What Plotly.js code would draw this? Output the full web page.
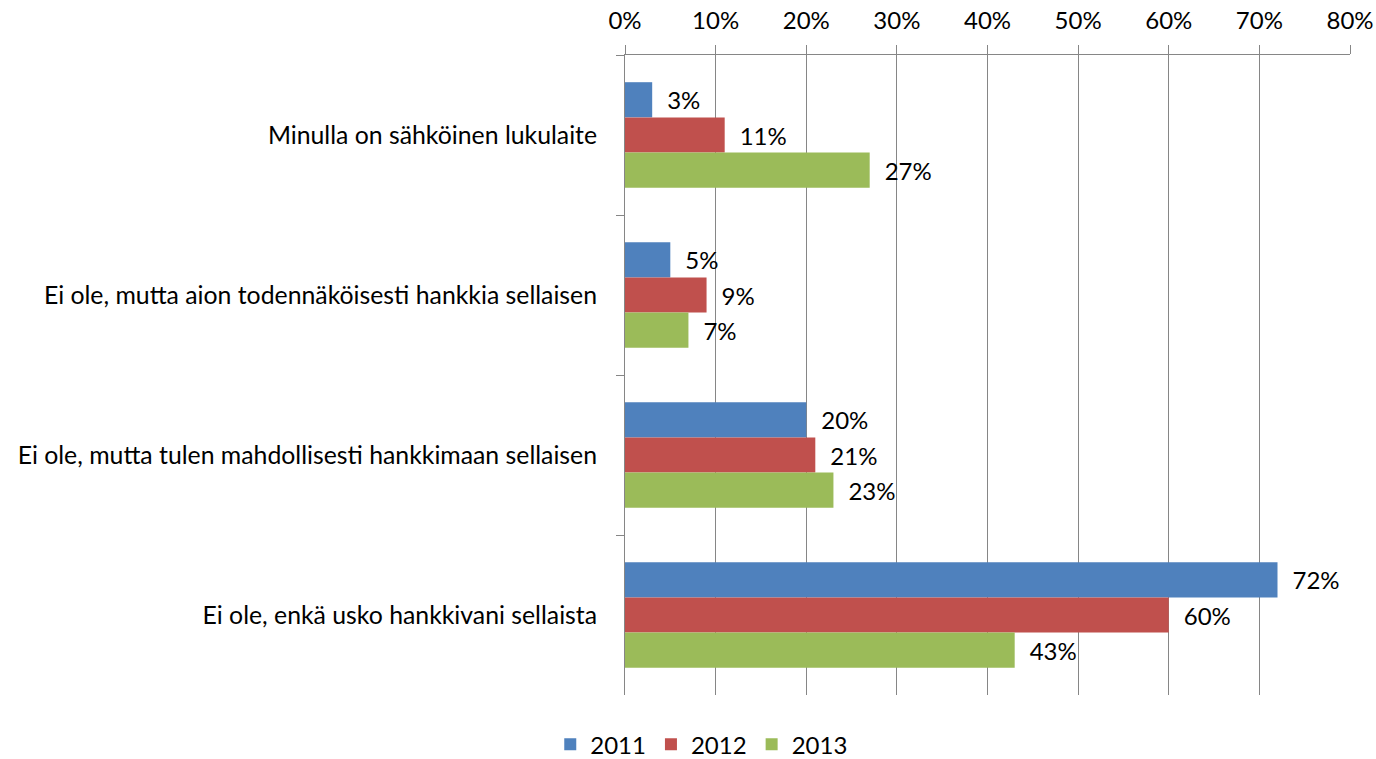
<!DOCTYPE html>
<html>
<head>
<meta charset="utf-8">
<script src="https://cdn.plot.ly/plotly-3.0.1.min.js"></script>
<style>html,body{margin:0;padding:0;background:#fff;}#chart{width:1376px;height:759px;}</style>
</head>
<body>
<div id="chart"></div>
<script>
const categories = [
  "Minulla on sähköinen lukulaite",
  "Ei ole, mutta aion todennäköisesti hankkia sellaisen",
  "Ei ole, mutta tulen mahdollisesti hankkimaan sellaisen",
  "Ei ole, enkä usko hankkivani sellaista"
];
const years = ["2011", "2012", "2013"];
const values2011 = [3, 5, 20, 72];
const values2012 = [11, 9, 21, 60];
const values2013 = [27, 7, 23, 43];
const colors = ["#4f81bd", "#c0504d", "#9bbb59"];
const xTicks = [0, 10, 20, 30, 40, 50, 60, 70, 80];

const series = [values2011, values2012, values2013];
const font = "Lato, 'Open Sans', sans-serif";
const fs = 24;
const traces = series.map((vals, i) => ({
  type: "bar",
  orientation: "h",
  name: years[i],
  y: categories,
  x: vals,
  marker: {color: colors[i], line: {width: 0}},
  text: vals.map(v => "\u2002" + v + "%"),
  textposition: "outside",
  cliponaxis: false,
  textfont: {family: font, size: fs, color: "#000"},
  hoverinfo: "x+name"
}));

const layout = {
  width: 1376, height: 759,
  margin: {l: 625, r: 26, t: 55, b: 64, autoexpand: false},
  paper_bgcolor: "#fff", plot_bgcolor: "#fff",
  barmode: "group",
  bargap: 0.34,
  bargroupgap: 0,
  font: {family: font, size: fs, color: "#000"},
  xaxis: {
    side: "top",
    range: [0, 80],
    tickvals: xTicks,
    ticktext: xTicks.map(v => v + "%"),
    showgrid: true,
    gridcolor: "#868686",
    gridwidth: 1,
    showline: true,
    linecolor: "#868686",
    linewidth: 1,
    ticks: "outside",
    ticklen: 9,
    tickcolor: "#868686",
    zeroline: false,
    automargin: false,
    ticklabelstandoff: 6,
    tickfont: {family: font, size: fs, color: "#000"},
    fixedrange: true
  },
  yaxis: {
    autorange: "reversed",
    type: "category",
    showline: true,
    linecolor: "#868686",
    linewidth: 1,
    ticks: "outside",
    tickson: "boundaries",
    ticklen: 8,
    tickcolor: "#868686",
    showgrid: false,
    automargin: false,
    ticklabelstandoff: 22,
    tickfont: {family: font, size: 24.8, color: "#000"},
    fixedrange: true
  },
  showlegend: true,
  legend: {
    orientation: "h",
    x: 0.51, xref: "container", xanchor: "center",
    y: 0.019, yref: "container", yanchor: "middle",
    font: {family: font, size: fs, color: "#000"},
    traceorder: "normal"
  }
};

Plotly.newPlot("chart", traces, layout, {displayModeBar: false, staticPlot: true});
</script>
</body>
</html>
